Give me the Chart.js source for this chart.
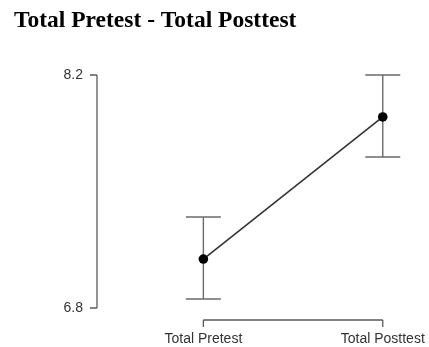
<!DOCTYPE html>
<html>
<head>
<meta charset="utf-8">
<script src="https://cdn.jsdelivr.net/npm/chart.js@4.4.1/dist/chart.umd.min.js"></script>
<style>
html,body{margin:0;padding:0;background:#fff;}
#wrap{width:429px;height:347px;position:relative;}
</style>
</head>
<body>
<div id="wrap"><canvas id="c" width="429" height="347"></canvas></div>
<script>
const titleText = "Total Pretest - Total Posttest";
const categories = ["Total Pretest", "Total Posttest"];
const means = [7.094, 7.948];
const lowerCI = [6.854, 7.707];
const upperCI = [7.347, 8.2];
const yTickValues = [6.8, 8.2];

const custom = {
  id: 'custom',
  beforeDatasetsDraw(chart) {
    const ctx = chart.ctx;
    const xs = chart.scales.x, ys = chart.scales.y;
    ctx.save();
    // error bars
    ctx.strokeStyle = '#6b6b6b';
    ctx.lineWidth = 1.4;
    for (let i = 0; i < means.length; i++) {
      const px = xs.getPixelForValue(i);
      const top = ys.getPixelForValue(upperCI[i]);
      const bot = ys.getPixelForValue(lowerCI[i]);
      ctx.beginPath();
      ctx.moveTo(px, top); ctx.lineTo(px, bot);
      ctx.moveTo(px - 17.5, top); ctx.lineTo(px + 17.5, top);
      ctx.moveTo(px - 17.5, bot); ctx.lineTo(px + 17.5, bot);
      ctx.stroke();
    }
    // y axis
    ctx.strokeStyle = '#5a5a5a';
    ctx.lineWidth = 1.3;
    const ax = chart.chartArea.left;
    const yTop = ys.getPixelForValue(yTickValues[yTickValues.length - 1]);
    const yBot = ys.getPixelForValue(yTickValues[0]);
    ctx.beginPath();
    ctx.moveTo(ax, yTop); ctx.lineTo(ax, yBot);
    yTickValues.forEach(v => {
      const py = ys.getPixelForValue(v);
      ctx.moveTo(ax - 7, py); ctx.lineTo(ax, py);
    });
    // x axis
    const ay = chart.chartArea.bottom + 12;
    const x0 = xs.getPixelForValue(0), x1 = xs.getPixelForValue(categories.length - 1);
    ctx.moveTo(x0, ay); ctx.lineTo(x1, ay);
    for (let i = 0; i < categories.length; i++) {
      const px = xs.getPixelForValue(i);
      ctx.moveTo(px, ay); ctx.lineTo(px, ay + 7);
    }
    ctx.stroke();
    // title
    ctx.fillStyle = '#000';
    ctx.font = 'bold 23.5px "Liberation Serif", "Times New Roman", serif';
    ctx.textBaseline = 'alphabetic';
    ctx.textAlign = 'left';
    ctx.fillText(titleText, 14, 27);
    ctx.restore();
  }
};

new Chart(document.getElementById('c'), {
  type: 'line',
  data: {
    datasets: [{
      data: means.map((m, i) => ({ x: i, y: m })),
      borderColor: '#333',
      borderWidth: 1.6,
      pointRadius: 4.8,
      pointBackgroundColor: '#000',
      pointBorderColor: '#000',
      pointBorderWidth: 0,
      tension: 0
    }]
  },
  options: {
    responsive: false,
    animation: false,
    devicePixelRatio: 1,
    layout: { padding: { top: 75, left: 0, right: 0, bottom: 0 } },
    plugins: { legend: { display: false }, tooltip: { enabled: false }, title: { display: false } },
    scales: {
      x: {
        type: 'linear',
        min: -0.593,
        max: 1.231,
        grid: { display: false, drawTicks: false },
        border: { display: false },
        afterBuildTicks: s => { s.ticks = categories.map((c, i) => ({ value: i })); },
        afterFit: s => { s.height = 39; s.paddingLeft = 0; s.paddingRight = 0; },
        ticks: {
          padding: 23,
          maxRotation: 0,
          autoSkip: false,
          color: '#333',
          font: { family: '"Liberation Sans", Arial, sans-serif', size: 14 },
          callback: v => categories[v]
        }
      },
      y: {
        min: 6.8,
        max: 8.2,
        grid: { display: false, drawTicks: false },
        border: { display: false },
        afterBuildTicks: s => { s.ticks = yTickValues.map(v => ({ value: v })); },
        afterFit: s => { s.width = 97; s.paddingTop = 0; s.paddingBottom = 0; },
        ticks: {
          padding: 14,
          color: '#333',
          font: { family: '"Liberation Sans", Arial, sans-serif', size: 14 },
          callback: v => v.toFixed(1)
        }
      }
    }
  },
  plugins: [custom]
});
</script>
</body>
</html>
